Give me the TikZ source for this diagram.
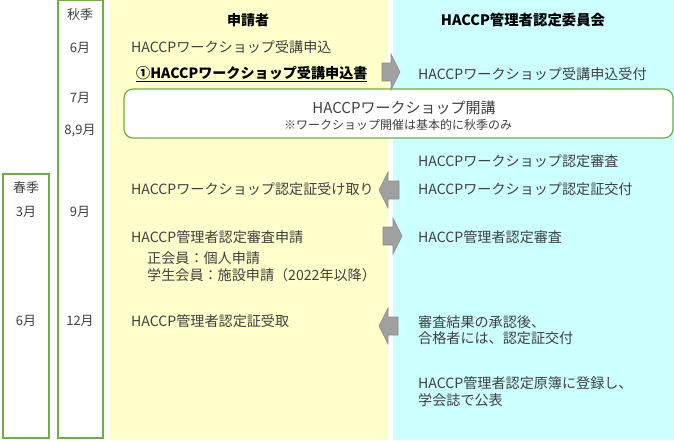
\documentclass[tikz,border=0pt]{standalone}
\usepackage{fontspec}
\setmainfont{Noto Sans CJK JP}
\begin{document}
\begin{tikzpicture}[x=1pt,y=-1pt,
  txt/.style={anchor=west,inner sep=0pt,text=txtgray,font=\fontsize{14.1}{16}\selectfont},
  mon/.style={inner sep=0pt,text=txtgray,font=\fontsize{13}{16}\selectfont},
  hdr/.style={inner sep=0pt,font=\bfseries\fontsize{14}{16}\selectfont},
  colbox/.style={draw=boxgreen,line width=1.2pt,fill=white},
  blk/.style={fill=arrgray,draw=arrline,line width=0.6pt}]
\definecolor{txtgray}{HTML}{404040}
\definecolor{boxgreen}{HTML}{70AD47}
\definecolor{yel}{HTML}{FFFFCC}
\definecolor{cyn}{HTML}{CCFFFF}
\definecolor{arrgray}{HTML}{A0A0A0}
\definecolor{arrline}{HTML}{8C8C8C}
\useasboundingbox (0,0) rectangle (674,440);
% panels
\fill[yel] (109,0) rectangle (388,440);
\fill[cyn] (393,0) rectangle (674,440);
% season columns
\draw[colbox] (58,0.6) rectangle (103,438);
\draw[colbox] (3,174) rectangle (49,438);
\node[mon] (aut) at (80,15) {秋季};
\node[mon] (m6) at (80,48) {6月};
\node[mon] (m7) at (80,98) {7月};
\node[mon] (m89) at (80,131) {8,9月};
\node[mon] (m9) at (80,212) {9月};
\node[mon] (m12) at (80,321) {12月};
\node[mon] (spr) at (26,188) {春季};
\node[mon] (s3) at (26,212) {3月};
\node[mon] (s6) at (26,321) {6月};
% headers
\node[hdr] (h1) at (248,20) {申請者};
\node[hdr,font=\bfseries\fontsize{14.4}{16}\selectfont] (h2) at (523,20) {HACCP管理者認定委員会};
% left texts
\node[txt] (l1) at (131,47) {HACCPワークショップ受講申込};
\node[txt,text=black,font=\bfseries\fontsize{14.1}{16}\selectfont] (l2) at (136,74) {\underline{①HACCPワークショップ受講申込書}};
\node[txt] (l3) at (131,189) {HACCPワークショップ認定証受け取り};
\node[txt] (l4) at (131,237) {HACCP管理者認定審査申請};
\node[txt] (l5) at (147,258) {正会員：個人申請};
\node[txt] (l6) at (147,275) {学生会員：施設申請（2022年以降）};
\node[txt] (l7) at (131,321) {HACCP管理者認定証受取};
% right texts
\node[txt] (r1) at (418,74) {HACCPワークショップ受講申込受付};
\node[txt] (r2) at (418,161) {HACCPワークショップ認定審査};
\node[txt] (r3) at (418,189) {HACCPワークショップ認定証交付};
\node[txt] (r4) at (418,237) {HACCP管理者認定審査};
\node[txt] (r5) at (418,322) {審査結果の承認後、};
\node[txt] (r6) at (418,338) {合格者には、認定証交付};
\node[txt] (r7) at (418,383) {HACCP管理者認定原簿に登録し、};
\node[txt] (r8) at (418,400) {学会誌で公表};
% workshop box
\draw[draw=boxgreen,line width=1.2pt,fill=white,rounded corners=9pt] (124,89) rectangle (673,138);
\node[inner sep=0pt,text=txtgray,font=\fontsize{15}{16}\selectfont] (ws) at (404,108) {HACCPワークショップ開講};
\node[inner sep=0pt,text=txtgray,font=\fontsize{12}{13}\selectfont] (wsn) at (398,125) {※ワークショップ開催は基本的に秋季のみ};
% block arrows
\draw[blk] (382,63) -- (391,63) -- (391,54) -- (400,72) -- (391,90) -- (391,81) -- (382,81) -- cycle;
\draw[blk] (399,181) -- (388,181) -- (388,172) -- (379,190) -- (388,208) -- (388,199) -- (399,199) -- cycle;
\draw[blk] (383,227) -- (393,227) -- (393,218) -- (402,236) -- (393,254) -- (393,245) -- (383,245) -- cycle;
\draw[blk] (398,317) -- (388,317) -- (388,308) -- (379,326) -- (388,344) -- (388,335) -- (398,335) -- cycle;
\end{tikzpicture}
\end{document}
